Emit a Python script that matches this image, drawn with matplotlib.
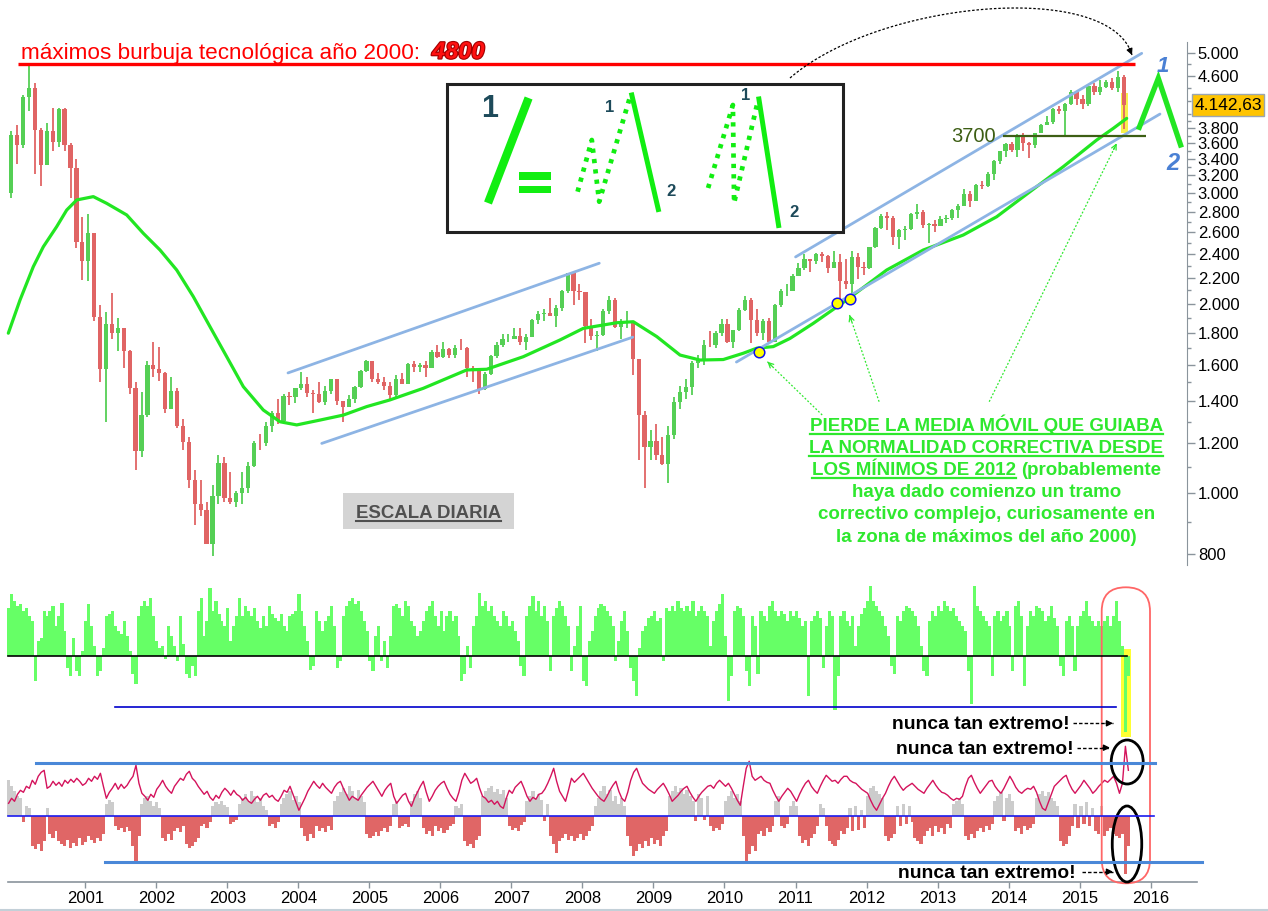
import numpy as np
import matplotlib
matplotlib.use("Agg")
import matplotlib.pyplot as plt
from matplotlib.patches import Rectangle, Ellipse, FancyBboxPatch
from matplotlib.ticker import FixedLocator, FuncFormatter, NullFormatter
import matplotlib.patheffects as pe

plt.rcParams['font.family'] = ['Liberation Sans', 'DejaVu Sans']

W, H, DPI = 1268, 911, 100

# ---------------- DATA ----------------
# Monthly Nasdaq-100 candles, Dec 1999 .. Aug 2015
first_open = 3000.0
close = [
    3708,
    3570, 4267, 4397, 3774, 3324, 3763, 3609, 4077, 3570, 3283, 2507, 2342,
    2593, 1908, 1573, 1855, 1799, 1830, 1683, 1469, 1169, 1330, 1596, 1577,
    1550, 1359, 1452, 1277, 1208, 1051, 962, 942, 832, 989, 1116, 984,
    967, 1002, 1018, 1106, 1202, 1201, 1277, 1341, 1303, 1426, 1423, 1468,
    1494, 1444, 1438, 1396, 1454, 1517, 1402, 1373, 1412, 1473, 1566, 1621,
    1519, 1504, 1483, 1431, 1520, 1493, 1606, 1585, 1601, 1583, 1677, 1645,
    1698, 1659, 1702, 1701, 1580, 1575, 1466, 1546, 1654, 1721, 1757, 1757,
    1778, 1741, 1772, 1883, 1925, 1935, 1916, 1966, 2092, 2239, 2092, 2085,
    1841, 1775, 1781, 1948, 2031, 1837, 1868, 1880, 1633, 1330, 1183, 1212,
    1149, 1114, 1237, 1394, 1446, 1477, 1609, 1632, 1720, 1718, 1800, 1860,
    1740, 1818, 1956, 2030, 1885, 1799, 1879, 1741, 1990, 2092, 2092, 2218,
    2282, 2358, 2338, 2402, 2381, 2282, 2330, 2175, 2154, 2373, 2292, 2278,
    2458, 2643, 2754, 2738, 2550, 2616, 2632, 2773, 2800, 2665, 2677, 2660,
    2731, 2738, 2819, 2861, 2991, 2910, 3094, 3073, 3218, 3378, 3498, 3592,
    3506, 3686, 3596, 3578, 3736, 3850, 3886, 4082, 4049, 4159, 4342, 4236,
    4151, 4444, 4334, 4415, 4508, 4397, 4589, 4142.63,
]
high = [
    3760,
    3840, 4290, 4816, 4480, 3800, 3880, 4100, 4100, 4100, 3600, 3400, 2750,
    2780, 2530, 1990, 1940, 2080, 1900, 1830, 1690, 1500, 1450, 1620, 1740,
    1710, 1560, 1530, 1470, 1310, 1230, 1090, 1050, 970, 1030, 1150, 1140,
    1080, 1010, 1080, 1120, 1210, 1240, 1300, 1350, 1410, 1440, 1450, 1470,
    1560, 1530, 1460, 1500, 1480, 1520, 1510, 1400, 1430, 1480, 1570, 1630,
    1620, 1550, 1530, 1500, 1540, 1550, 1610, 1620, 1610, 1620, 1690, 1720,
    1740, 1700, 1720, 1760, 1710, 1590, 1580, 1560, 1660, 1740, 1790, 1790,
    1830, 1830, 1790, 1890, 1945, 1960, 2040, 1990, 2100, 2240, 2230, 2150,
    2090, 1890, 1810, 1960, 2060, 2040, 1890, 1950, 1880, 1610, 1350, 1260,
    1290, 1230, 1280, 1420, 1480, 1520, 1620, 1660, 1750, 1810, 1810, 1890,
    1890, 1820, 1970, 2060, 2040, 1960, 1890, 1900, 2000, 2110, 2150, 2230,
    2320, 2400, 2360, 2410, 2420, 2390, 2430, 2400, 2360, 2430, 2410, 2330,
    2460, 2650, 2780, 2800, 2760, 2630, 2660, 2790, 2880, 2820, 2690, 2720,
    2760, 2770, 2830, 2880, 3040, 3020, 3100, 3130, 3240, 3390, 3500, 3600,
    3620, 3720, 3740, 3620, 3740, 3860, 3970, 4090, 4120, 4170, 4380, 4340,
    4300, 4450, 4480, 4540, 4530, 4570, 4690, 4620,
]
low = [
    2950,
    3340, 3530, 4050, 3220, 3080, 3320, 3500, 3550, 3500, 2950, 2450, 2180,
    2170, 1880, 1500, 1300, 1760, 1680, 1580, 1440, 1090, 1140, 1320, 1530,
    1510, 1340, 1360, 1270, 1170, 1020, 890, 920, 830, 795, 960, 970,
    960, 950, 960, 1000, 1100, 1170, 1190, 1250, 1290, 1320, 1380, 1390,
    1460, 1420, 1340, 1390, 1380, 1440, 1380, 1300, 1370, 1390, 1470, 1560,
    1500, 1490, 1460, 1410, 1420, 1490, 1490, 1560, 1560, 1530, 1580, 1640,
    1640, 1640, 1640, 1690, 1530, 1500, 1440, 1460, 1540, 1640, 1710, 1740,
    1760, 1720, 1690, 1770, 1860, 1880, 1910, 1840, 1950, 2080, 1990, 2030,
    1730, 1750, 1680, 1780, 1930, 1830, 1760, 1830, 1540, 1130, 1020, 1130,
    1130, 1110, 1040, 1220, 1360, 1410, 1430, 1580, 1600, 1710, 1700, 1780,
    1730, 1700, 1810, 1950, 1730, 1780, 1750, 1730, 1750, 1980, 2060, 2100,
    2210, 2260, 2250, 2310, 2330, 2240, 2280, 1990, 2110, 2040, 2190, 2220,
    2270, 2450, 2630, 2620, 2480, 2440, 2530, 2620, 2730, 2640, 2500, 2600,
    2670, 2690, 2720, 2740, 2860, 2850, 2930, 3040, 3070, 3150, 3340, 3420,
    3480, 3420, 3500, 3410, 3540, 3730, 3850, 3860, 4010, 3700, 4140, 4140,
    4080, 4130, 4290, 4290, 4400, 4380, 4340, 3787,
]

# Moving average (read at points)
ma_t = [1999.916, 2000.081, 2000.268, 2000.409, 2000.597, 2000.738, 2000.879,
        2001.113, 2001.301, 2001.583, 2001.817, 2002.052, 2002.287, 2002.521,
        2002.756, 2002.991, 2003.225, 2003.506, 2003.741, 2003.977, 2004.305,
        2004.633, 2004.962, 2005.290, 2005.759, 2006.370, 2006.652, 2007.167,
        2007.684, 2008.012, 2008.482, 2008.716, 2009.046, 2009.374, 2009.655,
        2009.983, 2010.265, 2010.454, 2010.687, 2010.923, 2011.251, 2011.721,
        2012.284, 2012.800, 2013.362, 2013.833, 2014.302, 2014.771, 2015.241,
        2015.475, 2015.663]
ma_v = [1796, 2028, 2291, 2464, 2652, 2818, 2924,
        2960, 2888, 2768, 2588, 2435, 2263, 2053,
        1839, 1648, 1477, 1356, 1299, 1284, 1307,
        1331, 1373, 1407, 1468, 1570, 1574, 1648,
        1752, 1828, 1866, 1873, 1774, 1658, 1628,
        1631, 1669, 1700, 1710, 1762, 1862, 2028,
        2263, 2435, 2572, 2750, 3014, 3303, 3641,
        3800, 3941]

# trend channels (start/end date, start/end value)
chan_t = [[2003.854, 2008.237], [2004.329, 2008.708], [2010.168, 2016.132], [2011.001, 2015.875]]
chan_v = [[1553, 2320], [1200, 1770], [1616, 4004], [2374, 5000]]

bubble_top = 4800
bubble_span = [2000.052, 2015.780]
support = 3700
support_span = [2013.926, 2015.935]
touch_t = [2010.490, 2011.589, 2011.767]
touch_v = [1679, 2004, 2033]
last_price = "4.142,63"

y_major = [800, 1000, 1200, 1400, 1600, 1800, 2000, 2200, 2400, 2600, 2800, 3000,
           3200, 3400, 3600, 3800, 4600, 5000]
y_minor = [900, 1100, 1300, 1500, 1700, 1900, 2100, 2300, 2500, 2700, 2900, 3100,
           3300, 3500, 3700, 3900, 4000, 4200, 4400, 4800]
years = list(range(2001, 2017))

# lower panel A: green histogram (semi-monthly)
green = [
    48, 62, 55, 50, 52, 45, 48, 40, 35, -25,
    15, 18, 45, 40, 45, 50, 30, 40, 53, 25,
    -12, -20, 18, -15, -20, 5, 35, 52, 30, 10,
    -20, -15, 8, 40, 42, 45, 30, 25, 22, 35,
    20, 5, -18, -28, 40, 50, 55, 50, 58, 40,
    15, 8, 10, -3, 30, 20, 10, -5, 40, 12,
    -18, -22, -10, -20, 45, 58, 20, 35, 68, 45,
    55, 42, 35, 30, 48, 15, 30, 40, 58, 40,
    50, 45, 40, 48, 35, 28, 40, 30, 50, 42,
    38, 35, 42, 30, 25, 40, 42, 45, 62, 45, 30,
    15, -14, -10, 45, 35, 25, 35, 40, 50, 30,
    -12, -5, 40, 50, 55, 58, 52, 55, 45, 35,
    25, -5, -15, 20, 30, -5, 15, -12, 20, 50,
    52, 48,
    40, 55, 50, 35, 30, 20, 25, 35,
    45, 50, 55, 40, 30, 45, 25, 40, 45, 35, 40, 20,
    -25, -18, 10, -12, 30, 40,
    63, 50, 55, 45, 50, 40, 35, 30, 45, 40, 30, 35, 25, 15, -10,
    -20, 40, 50, 60, 45, 55, 40, 50, 35, -15, 40, 48, 55, 50, 40, 30, -15, 10, 30,
    50, -25, -30, 15, 25, 40, 48, 52, 50, 45, 40, 30, -5, 15, 35, 45, 25, -12, -25, -40,
    8, 25, 30, 38, 40, 45, 35, 38, -5, 48, 45, 50, 45, 55, 48, 45, 50, 45, 55, 40,
    45, 50, 45, 40, 10, 35, 45, 52, 62,
    20, -45, -20, 45, 50, 48, 40, -15, -30, 40, 30, -18, 45, 40, 35, 50, 55, 45,
    40, 45, 42, 35, 45, 40, 45, 38, 30,
    35, -40, 35, 40, 45, 38, -12, 30, 45, 40, -54, -20,
    40, 45, 35, 30, 40, 10, 30, 42, 48, 55, 70, 55, 50, 45, 40, 30, 20, -10, -18,
    40, 35, 45, 50, 48, 45, 40, 30, 10, -15, -20, 35, 45, 40, 50, 45, 55, 50, 45, 48,
    40, 35, 30, 25,
    -15, -48, 70, 50, 45, 40, 35, 30, -20, 40, 45, 35, 40, 45, 30, -15, 50, 55, 40, -30,
    30, 45, 40, 50, 48, 45, 35, 40, 50, 38, 30, -10, -20, 35, 40, 30, -15, 30, 40, 45,
    55, 40, 35, 30, 35, 30, 35, 40, 30, 40, 55, 35, 10,
    -76, -20,
]

# lower panel B: oscillator line (semi-monthly)
osc = [
    13, 18, 15, 22, 26, 24, 30, 28, 36, 32, 40, 44, 46, 28, 30, 35, 31, 34, 30, 36,
    33, 37, 34, 38, 35, 31, 33, 38, 35, 40, 37, 43, 30, 18, 24, 28, 33, 27, 32, 28,
    31, 36, 40, 51, 33, 23, 20, 16, 22, 19, 27, 31, 36, 30, 26, 23, 30, 34, 38, 36,
    42, 45, 38, 35, 30, 26, 22, 25, 19, 16, 21, 18, 24, 28, 25, 21, 26, 22, 20, 16,
    19, 15, 13, 17, 20, 16, 21, 23, 19, 21, 17, 15, 20, 26, 24, 30, 22, 14, 6, 12,
    18, 25, 30, 35, 31, 28, 33, 29, 26, 23, 29, 33, 35, 28, 22, 16, 20, 18, 16, 21,
    25, 29, 32, 35, 30, 25, 20, 26, 30, 33, 20, 13, 17, 21, 23, 15, 10, 18, 24, 30,
    35, 24, 15, 20, 26, 30, 33, 35, 28, 22, 18, 15, 24, 36, 43, 38, 33, 35, 38, 28,
    20, 18, 14, 16, 12, 15, 10, 8, 18, 26, 23, 29, 32, 35, 28, 20, 15, 19, 17, 22,
    23, 27, 33, 40, 48, 35, 25, 20, 15, 26, 38, 34, 37, 40, 43, 38, 33, 28, 24, 20,
    17, 15, 20, 26, 31, 35, 25, 18, 15, 24, 36, 44, 48, 40, 33, 30, 27, 25, 23, 27,
    30, 33, 28, 22, 15, 18, 21, 25, 28, 30, 24, 19, 15, 20, 24, 27, 30, 31, 28, 33,
    36, 33, 30, 33, 28, 22, 16, 11, 30, 48, 55, 40, 36, 38, 40, 36, 34, 33, 26, 20,
    15, 20, 24, 28, 25, 20, 15, 22, 28, 33, 36, 30, 26, 23, 30, 36, 41, 38, 35, 36,
    33, 37, 40, 40, 36, 34, 33, 30, 27, 25, 23, 16, 10, 6, 12, 18, 23, 30, 36, 40,
    35, 30, 26, 29, 31, 33, 30, 27, 25, 23, 28, 32, 36, 31, 27, 24, 23, 21, 18, 16,
    18, 17, 20, 30, 38, 41, 34, 28, 23, 27, 31, 35, 36, 30, 26, 23, 28, 34, 40, 35,
    29, 25, 23, 26, 28, 27, 30, 24, 15, 8, 6, 14, 22, 30, 33, 36, 39, 41, 33, 27,
    23, 27, 31, 36, 32, 28, 23, 26, 30, 33, 36, 34, 37, 40, 33, 23, 33, 70, 46,
]

# lower panel B: histogram (gray above zero, red below)
hist = [
    36, 30, 25, 20, 18, -6, 10, 8,
    -30, -33, -28, -35, -25,
    8, -18, -22, -15, -25,
    -28, -30, -24, -32, -27, -30, -22, -29, -26, -20,
    -24, -27, -22, -25, -18,
    12, 16, 14,
    -10, -14, -12, -16, -11, -15,
    -30, -46, -20,
    12, 18, 20, 15, 10, 14, 8,
    -22, -25, -18, -24,
    -15, -12, -16, -10,
    -28, -32, -30, -26, -22,
    -10, -8, -12, -6,
    10, 14, 12, 15, 11, 9,
    -8, -6, -4,
    12, 18, 22, 15, 25, 20, 14, 18, 10, 6,
    -10, -8, -12, -6,
    12, 18, 22, 25, 16, 20, 14,
    -12, -20, -25, -18, -22, -10,
    -15, -12, -16, -10, -14,
    15, 20, 24, 28, 22, 30, 25, 18, 26, 20, 14,
    -18, -22, -20, -16, -20,
    -15, -12, -16, -10, 12,
    15, -12,
    -10, -8, -11,
    15, 22, 25, 18,
    -12, -18, -15, -20, -10,
    -15, -12, -17, -14, -10, -8,
    10, 8, 12,
    -25, -30, -28, -32, -24, -20,
    20, 25, 28, 30, 24, 27, 22, 26, 18,
    -10, -14, -12, -15, -9, -6,
    15, 20, 25, 18, 22, 16, -5, 12,
    -20, -28, -37, -25, -22, -18, -24,
    -20, -25, -22, -18, -24, -20, -15, -10,
    10, 18, 25, 30, 22, 26, 15, 20, 12, 18, 10,
    -20, -30, -40, -35, -28, -32, -25, -30, -22, -28, -24, -30, -20, -15,
    20, 25, 30, 24, 28, 22, 26, 20,
    15, -5, 22, 18, -4, 20,
    -10, -15, -12, -14, -8,
    15, 20, 25, 18, 22, 15,
    -20, -45, -38, -30, -35,
    -18, -15, -20, -12, -16, -10,
    15, 20, -10, -12, -8, 10,
    15, 10,
    -20, -27, -24, -30, -22, -18, -10,
    12, 8, -10,
    -25, -28, -30, -24,
    -15, -18, -12,
    8, -15, 10, -14, 6, -12,
    20, 28, 30, 25, 22, 18,
    -20, -25, -22, -18,
    10, -10, 12, -8, 10, -6,
    -22, -25, -28, -20,
    -15, -12, -20, -10, -16, -12, -18, -8, -12,
    12, 15, 18, 12,
    -20, -24, -18, -22,
    -15, -12, -16, -10, -14, -8,
    15, 20, 24, -5, 18, 22, 15,
    -15, -12, -18, -10, -14, -12, -8,
    18, 22, 25, 20, 24, 18, 15, 10,
    -25, -30, -28, -20,
    -10, 12, -12, 10, -8, 14, -10, 8,
    -15, -18, 10, -20, -15, -12, -18,
    -20, -22, -18,
    -58, -30,
]
lower_span = [1999.92, 2015.687]

# ---------------- COLOURS ----------------
C_UP, C_DN = '#55cf55', '#e06464'
C_MA = '#22e622'
C_CH = '#8db4e4'
C_AX = '#8a949c'
C_GT = '#2ee82e'

fig = plt.figure(figsize=(W / DPI, H / DPI), dpi=DPI)
fig.patch.set_facecolor('white')


def px_t(x):
    return 2001 + (x - 85.3) / 71.02


def add_ax(x0, y0, x1, y1):
    a = fig.add_axes([x0 / W, 1 - y1 / H, (x1 - x0) / W, (y1 - y0) / H])
    a.set_xlim(px_t(x0), px_t(x1))
    a.patch.set_alpha(0)
    return a


# ---------------- MAIN PRICE PANEL ----------------
ax = add_ax(0, 0, 1186.7, 570)
ax.set_yscale('log')
ax.set_ylim(755.2, 6077)
ax.set_xlim(px_t(0), px_t(1186.7))

c = np.array(close, float)
hi = np.array(high, float)
lo = np.array(low, float)
op = np.r_[first_open, c[:-1]]
tm = 1999 + 11 / 12 + 1 / 24 + np.arange(len(c)) / 12
col = np.where(c >= op, C_UP, C_DN)

# yellow highlight of the last days
ax.add_patch(Rectangle((px_t(1120.7), 3733), px_t(1127.7) - px_t(1120.7), 4317 - 3733,
                       facecolor='#f8f04a', edgecolor='none', zorder=1))
ax.vlines(tm, lo, hi, colors=col, lw=1.3, zorder=2)
ax.bar(tm, np.abs(c - op), bottom=np.minimum(c, op), width=0.72 / 12, color=col, lw=0, zorder=2)

ax.plot(ma_t, ma_v, color=C_MA, lw=2.3, zorder=3, solid_capstyle='round')
for ts, vs in zip(chan_t, chan_v):
    ax.plot(ts, vs, color=C_CH, lw=2.0, zorder=3, solid_capstyle='round')
ax.hlines(bubble_top, bubble_span[0], bubble_span[1], color='#ff0000', lw=2.4, zorder=4)
ax.hlines(support, support_span[0], support_span[1], color='#3d5e14', lw=1.6, zorder=4)
ax.plot(touch_t, touch_v, 'o', ms=7.6, mfc='#ffff00', mec='#1010ee', mew=1.1, zorder=6)

for s in ('left', 'top', 'bottom'):
    ax.spines[s].set_visible(False)
ax.spines['right'].set_color(C_AX)
ax.spines['right'].set_bounds(769, 5217)
ax.set_xticks([])
ax.yaxis.tick_right()
ax.yaxis.set_major_locator(FixedLocator(y_major))
ax.yaxis.set_minor_locator(FixedLocator(y_minor))
ax.yaxis.set_major_formatter(FuncFormatter(lambda v, p: f"{int(round(v)):,}".replace(',', '.')))
ax.yaxis.set_minor_formatter(NullFormatter())
ax.tick_params(axis='y', which='major', direction='out', length=6, width=1, color=C_AX,
               labelsize=12, pad=2, labelcolor='black')
ax.tick_params(axis='y', which='minor', direction='out', length=3, width=1, color=C_AX)
for tk in ax.yaxis.get_major_ticks():
    if tk.get_loc() in (1000, 2000, 3000):
        tk.label2.set_fontweight('bold')
        tk.label2.set_fontsize(13)

# ---------------- PANEL A ----------------
axA = add_ax(0, 580, 1186.7, 740)
axA.set_ylim(-84, 76)
tA = np.linspace(lower_span[0], lower_span[1], len(green))
axA.add_patch(Rectangle((px_t(1120.7), -80.7), px_t(1130.7) - px_t(1120.7), 87.7,
                        facecolor='#ffff33', edgecolor='none', zorder=1))
axA.bar(tA, green, width=1.08 / 24, color='#66ff66', lw=0, zorder=2)
axA.axis('off')

# ---------------- PANEL B ----------------
axB = add_ax(0, 740, 1197, 881.7)
axB.set_ylim(-65.4, 76.3)
tB = np.linspace(lower_span[0], lower_span[1], len(hist))
hv = np.array(hist, float)
axB.bar(tB, hv, width=1.08 / 24, color=np.where(hv >= 0, '#cccccc', '#e06666'), lw=0, zorder=2)
tO = np.linspace(lower_span[0], lower_span[1], len(osc))
axB.plot(tO, osc, color='#d4135c', lw=1.0, zorder=3)
for s in ('left', 'top', 'right'):
    axB.spines[s].set_visible(False)
axB.spines['bottom'].set_color(C_AX)
axB.spines['bottom'].set_linewidth(1.2)
axB.spines['bottom'].set_bounds(px_t(8), px_t(1197))
axB.set_yticks([])
axB.set_xticks(years)
axB.set_xticklabels([str(y) for y in years])
axB.tick_params(axis='x', direction='out', length=4, width=1, color=C_AX, labelsize=12, pad=3)

# ---------------- OVERLAY (annotations, pixel coords) ----------------
ov = fig.add_axes([0, 0, 1, 1])
ov.set_xlim(0, W)
ov.set_ylim(H, 0)
ov.axis('off')
ov.patch.set_alpha(0)

# reference lines of lower panels
ov.plot([8, 1126.7], [656, 656], color='black', lw=1.2)
ov.plot([115, 1115.7], [707.3, 707.3], color='#0000cc', lw=1.2)
ov.plot([36, 1155], [762.7, 762.7], color='#4a88d8', lw=2.2)
ov.plot([8, 1154], [816.3, 816.3], color='#1a1aee', lw=1.2)
ov.plot([105, 1202], [861.7, 861.7], color='#4a88d8', lw=2.2)
ov.plot([0, W], [909.5, 909.5], color='#c3d0d8', lw=1.5)

ov.add_patch(FancyBboxPatch((1101.7, 587.3), 48.3, 296, boxstyle='round,pad=0,rounding_size=24',
                            fill=False, ec='#ff6666', lw=1.3))
ov.add_patch(Ellipse((1127.2, 762), 32, 44, fill=False, ec='black', lw=2))
ov.add_patch(Ellipse((1127, 844), 29.5, 76, fill=False, ec='black', lw=2))


def head(p0, p1, color, lw=1.0, style='-|>', ms=9):
    d = np.subtract(p1, p0).astype(float)
    d /= np.hypot(*d)
    back = (p1[0] - d[0] * 7, p1[1] - d[1] * 7)
    ov.annotate('', xy=p1, xytext=back,
                arrowprops=dict(arrowstyle=style, color=color, lw=lw, mutation_scale=ms,
                                shrinkA=0, shrinkB=0))


def dashed_arrow(p0, p1, color='black', ls=(0, (2.5, 1.5)), lw=1.0, style='-|>'):
    ov.plot([p0[0], p1[0]], [p0[1], p1[1]], color=color, lw=lw, ls=ls)
    head(p0, p1, color, lw, style)


NT = dict(fontsize=13.9, fontweight='bold', color='black', ha='right', va='baseline')
ov.text(1069.3, 729.3, 'nunca tan extremo!', **NT)
ov.text(1074, 754, 'nunca tan extremo!', **NT)
ov.text(1076, 878.3, 'nunca tan extremo!', **NT)
dashed_arrow((1073, 723.3), (1113, 723.3))
dashed_arrow((1077, 747.7), (1110, 747.7))
dashed_arrow((1082, 871.7), (1113, 871.7))

# title and bubble line label
ov.text(21, 58.5, 'máximos burbuja tecnológica año 2000: ', fontsize=16.2, color='#ff0000',
        va='baseline', ha='left')
ov.text(432, 58.5, '4800', fontsize=17, color='#ff1010', fontweight='heavy', fontstyle='italic',
        va='baseline', ha='left',
        path_effects=[pe.withStroke(linewidth=1.6, foreground='#a00000')])

# inset box with wave sketch
ov.add_patch(Rectangle((447, 84), 396, 148, fill=True, fc='white', ec='#222222', lw=2.2, zorder=5))
INK = '#1d4a5a'
G2 = '#11ee11'
Z = 6
ov.text(490, 109, '1', fontsize=22, fontweight='bold', color=INK, ha='center', va='center', zorder=Z)
ov.plot([488, 528.6], [203, 98], color=G2, lw=6, solid_capstyle='butt', zorder=Z)
ov.add_patch(Rectangle((519, 172), 32, 7.5, fc=G2, ec='none', zorder=Z))
ov.add_patch(Rectangle((519, 185.5), 32, 7.5, fc=G2, ec='none', zorder=Z))
DOT = (0, (0.9, 1.3))
ov.plot([577.6, 591.8, 599.2, 630.6], [191.7, 140, 201.7, 95], color=G2, lw=3.4, ls=DOT, zorder=Z)
ov.plot([631.8, 658.3], [95, 209.5], color=G2, lw=3.6, zorder=Z)
ov.text(610, 107, '1', fontsize=12, fontweight='bold', color=INK, ha='center', va='center', zorder=Z)
ov.text(671, 191, '2', fontsize=12, fontweight='bold', color=INK, ha='center', va='center', zorder=Z)
ov.plot([708.1, 732.9, 734.1, 758.1], [188, 105, 203, 100], color=G2, lw=3.4, ls=DOT, zorder=Z)
ov.plot([758.9, 778.6], [99, 225.5], color=G2, lw=3.6, zorder=Z)
ov.text(746, 95, '1', fontsize=12, fontweight='bold', color=INK, ha='center', va='center', zorder=Z)
ov.text(794.2, 212.7, '2', fontsize=12, fontweight='bold', color=INK, ha='center', va='center', zorder=Z)

# dotted arc arrow from inset to channel top
P0, C1, C2, P3 = map(np.array, [(790, 78), (880, 0), (1110, -20), (1132, 55)])
s = np.linspace(0, 1, 80)[:, None]
bez = (1 - s) ** 3 * P0 + 3 * (1 - s) ** 2 * s * C1 + 3 * (1 - s) * s ** 2 * C2 + s ** 3 * P3
ov.plot(bez[:, 0], bez[:, 1], color='black', lw=0.9, ls=(0, (2, 1.5)))
head(tuple(bez[-4]), tuple(P3), 'black', 0.9, '-|>', 9)

# projected wave 1-2
ov.plot([1139.3, 1158.3, 1180.6], [127.3, 78.3, 145], color=C_MA, lw=3.8, solid_joinstyle='miter')
ov.text(1163.3, 66.7, '1', fontsize=16, fontweight='bold', fontstyle='italic', color='#4a80d4',
        ha='center', va='center')
ov.text(1173.3, 163.3, '2', fontsize=17, fontweight='bold', fontstyle='italic', color='#4a80d4',
        ha='center', va='center')

# last price box
ov.add_patch(Rectangle((1192, 94), 72, 22, fc='#ffc400', ec='#9aa6b2', lw=1))
ov.text(1228, 105.5, last_price, fontsize=12.5, color='black', ha='center', va='center')

# 3700 label
ov.text(996, 141.7, '3700', fontsize=14.5, color='#3d5e14', ha='right', va='baseline')

# ESCALA DIARIA
ov.add_patch(Rectangle((343, 493.3), 170.5, 36, fc='#d4d4d4', ec='none'))
esc = ov.text(428.2, 518.3, 'ESCALA DIARIA', fontsize=13.4, fontweight='bold', color='#505050',
              ha='center', va='baseline')

# green comment block
GTK = dict(fontsize=13.5, fontweight='bold', color=C_GT, va='baseline')
xc = 986.4
l1 = ov.text(xc, 431, 'PIERDE LA MEDIA MÓVIL QUE GUIABA', ha='center', **GTK)
l2 = ov.text(xc, 452.7, 'LA NORMALIDAD CORRECTIVA DESDE', ha='center', **GTK)
l3a = ov.text(0, 475, 'LOS MÍNIMOS DE 2012', ha='left', **GTK)
l3b = ov.text(0, 475, '(probablemente', ha='left', **GTK)
ov.text(xc, 497.4, 'haya dado comienzo un tramo', ha='center', **GTK)
ov.text(xc, 519.4, 'correctivo complejo, curiosamente en', ha='center', **GTK)
ov.text(xc, 541.7, 'la zona de máximos del año 2000)', ha='center', **GTK)

# green pointer arrows
GA = dict(color=C_GT, ls=(0, (1.5, 1.5)), lw=0.9, style='->')
dashed_arrow((822.2, 415), (767.4, 361.7), **GA)
dashed_arrow((879.1, 401.7), (849.5, 315), **GA)
dashed_arrow((989.2, 401.7), (1116.7, 143.3), **GA)

# layout-dependent underlines
fig.canvas.draw()
rend = fig.canvas.get_renderer()


def width_px(t):
    return t.get_window_extent(rend).width


gap = 5
w1, w2 = width_px(l3a), width_px(l3b)
x0 = xc - (w1 + gap + w2) / 2
l3a.set_x(x0)
l3b.set_x(x0 + w1 + gap)
for t, y in ((l1, 434.3), (l2, 456)):
    bb = t.get_window_extent(rend)
    ov.plot([bb.x0, bb.x1], [y, y], color=C_GT, lw=1.6)
ov.plot([x0, x0 + w1], [478.3, 478.3], color=C_GT, lw=1.6)
bb = esc.get_window_extent(rend)
ov.plot([bb.x0, bb.x1], [521, 521], color='#505050', lw=1.5)

fig.savefig('out.png', dpi=DPI, facecolor='white')
